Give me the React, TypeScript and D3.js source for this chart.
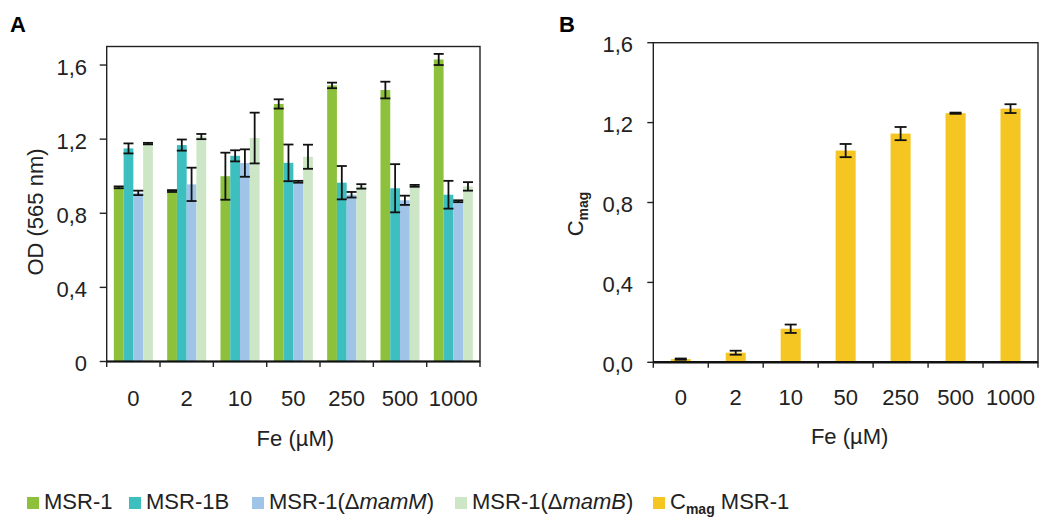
import React from "react";
import * as d3 from "d3";

const categories = ["0", "2", "10", "50", "250", "500", "1000"];
const seriesNames = ["MSR-1", "MSR-1B", "MSR-1(ΔmamM)", "MSR-1(ΔmamB)"];
const seriesColors = ["#8DC13C", "#3DBFBF", "#9FC4E7", "#CDE6C6"];
const msr1 = [0.94, 0.92, 1.0, 1.39, 1.49, 1.465, 1.63];
const msr1Err = [0.005, 0.005, 0.127, 0.025, 0.015, 0.045, 0.03];
const msr1B = [1.15, 1.168, 1.11, 1.072, 0.965, 0.935, 0.9];
const msr1BErr = [0.027, 0.03, 0.03, 0.099, 0.09, 0.13, 0.075];
const mamM = [0.91, 0.956, 1.071, 0.97, 0.9, 0.87, 0.865];
const mamMErr = [0.012, 0.09, 0.074, 0.005, 0.015, 0.025, 0.005];
const mamB = [1.176, 1.214, 1.206, 1.105, 0.945, 0.948, 0.945];
const mamBErr = [0.004, 0.014, 0.137, 0.065, 0.012, 0.005, 0.023];
const cmag = [0.016, 0.048, 0.168, 1.06, 1.145, 1.247, 1.27];
const cmagErr = [0.003, 0.01, 0.021, 0.033, 0.033, 0.003, 0.022];
const cmagColor = "#F5C622";
const yTicksA = [0, 0.4, 0.8, 1.2, 1.6];
const yTickLabelsA = ["0", "0,4", "0,8", "1,2", "1,6"];
const yTicksB = [0, 0.4, 0.8, 1.2, 1.6];
const yTickLabelsB = ["0,0", "0,4", "0,8", "1,2", "1,6"];

const FONT = "'Liberation Sans', Arial, sans-serif";
const FS = 22;

export default function App() {
  const seriesVals = [msr1, msr1B, mamM, mamB];
  const seriesErrs = [msr1Err, msr1BErr, mamMErr, mamBErr];

  // Panel A
  const axL = 106.7, axR = 480, ayB = 361.5, ayT = 46.5;
  const xA = d3.scaleBand<string>().domain(categories).range([axL, axR]).padding(0);
  const yA = d3.scaleLinear().domain([0, 1.7]).range([ayB, ayT]);
  const barWA = xA.bandwidth() * 0.183;
  const groupOffA = (xA.bandwidth() - barWA * 4) / 2;

  // Panel B
  const bxL = 653.3, bxR = 1038, byB = 362.3, byT = 42.7;
  const xB = d3.scaleBand<string>().domain(categories).range([bxL, bxR]).padding(0);
  const yB = d3.scaleLinear().domain([0, 1.6]).range([byB, byT]);
  const barWB = xB.bandwidth() * 0.365;

  const errStroke = "#111";
  const boundariesA = [axL, ...categories.map((c) => (xA(c) as number) + xA.bandwidth())];
  const boundariesB = [bxL, ...categories.map((c) => (xB(c) as number) + xB.bandwidth())];

  const legendTextX = [44, 146, 269, 472, 670];

  return (
    <svg
      width={1044}
      height={519}
      style={{ position: "absolute", left: 0, top: 0, display: "block", background: "#fff" }}
      fontFamily={FONT}
      fontSize={FS}
    >
      <rect x={0} y={0} width={1044} height={519} fill="#fff" />
      {/* Panel labels */}
      <text x={10} y={32} fontWeight="bold" fontSize={22}>A</text>
      <text x={559} y={32} fontWeight="bold" fontSize={22}>B</text>

      {/* ---------- Panel A ---------- */}
      <g>
        {seriesVals.map((vals, si) =>
          categories.map((c, ci) => {
            const x = (xA(c) as number) + groupOffA + si * barWA;
            return (
              <rect
                key={`a-${si}-${ci}`}
                x={x}
                y={yA(vals[ci])}
                width={barWA}
                height={ayB - yA(vals[ci])}
                fill={seriesColors[si]}
              />
            );
          })
        )}
        {seriesVals.map((vals, si) =>
          categories.map((c, ci) => {
            const cx = (xA(c) as number) + groupOffA + si * barWA + barWA / 2;
            const hi = yA(vals[ci] + seriesErrs[si][ci]);
            const lo = yA(vals[ci] - seriesErrs[si][ci]);
            const cw = 5;
            return (
              <g key={`ae-${si}-${ci}`} stroke={errStroke} strokeWidth={1.8}>
                <line x1={cx} x2={cx} y1={hi} y2={lo} />
                <line x1={cx - cw} x2={cx + cw} y1={hi} y2={hi} />
                <line x1={cx - cw} x2={cx + cw} y1={lo} y2={lo} />
              </g>
            );
          })
        )}
        {/* box */}
        <rect x={axL} y={ayT} width={axR - axL} height={ayB - ayT} fill="none" stroke="#222" strokeWidth={1.4} />
        <line x1={axL} x2={axR} y1={ayB} y2={ayB} stroke="#111" strokeWidth={2} />
        {/* y ticks */}
        {yTicksA.map((t, i) => (
          <g key={`ayt-${i}`}>
            <line x1={axL - 7} x2={axL} y1={yA(t)} y2={yA(t)} stroke="#222" strokeWidth={1.4} />
            <text x={87} y={yA(t) + 9.5} textAnchor="end" fill="#222">
              {yTickLabelsA[i]}
            </text>
          </g>
        ))}
        {/* x ticks */}
        {boundariesA.map((b, i) => (
          <line key={`axt-${i}`} x1={b} x2={b} y1={ayB} y2={ayB + 5.5} stroke="#222" strokeWidth={1.4} />
        ))}
        {categories.map((c) => (
          <text key={`axl-${c}`} x={(xA(c) as number) + xA.bandwidth() / 2} y={406} textAnchor="middle" fill="#222">
            {c}
          </text>
        ))}
        <text x={(axL + axR) / 2 + 2} y={446} textAnchor="middle" fill="#222">Fe (µM)</text>
        <text transform="translate(43,212) rotate(-90)" textAnchor="middle" fill="#222">OD (565 nm)</text>
      </g>

      {/* ---------- Panel B ---------- */}
      <g>
        {categories.map((c, ci) => {
          const x = (xB(c) as number) + (xB.bandwidth() - barWB) / 2;
          return (
            <rect key={`b-${ci}`} x={x} y={yB(cmag[ci])} width={barWB} height={byB - yB(cmag[ci])} fill={cmagColor} />
          );
        })}
        {categories.map((c, ci) => {
          const cx = (xB(c) as number) + xB.bandwidth() / 2;
          const hi = yB(cmag[ci] + cmagErr[ci]);
          const lo = yB(cmag[ci] - cmagErr[ci]);
          const cw = 6;
          return (
            <g key={`be-${ci}`} stroke={errStroke} strokeWidth={1.8}>
              <line x1={cx} x2={cx} y1={hi} y2={lo} />
              <line x1={cx - cw} x2={cx + cw} y1={hi} y2={hi} />
              <line x1={cx - cw} x2={cx + cw} y1={lo} y2={lo} />
            </g>
          );
        })}
        <rect x={bxL} y={byT} width={bxR - bxL} height={byB - byT} fill="none" stroke="#222" strokeWidth={1.4} />
        <line x1={bxL} x2={bxR} y1={byB} y2={byB} stroke="#111" strokeWidth={2.4} />
        {yTicksB.map((t, i) => (
          <g key={`byt-${i}`}>
            <line x1={bxL - 6} x2={bxL} y1={yB(t)} y2={yB(t)} stroke="#222" strokeWidth={1.4} />
            <text x={633} y={yB(t) + 9.5} textAnchor="end" fill="#222">
              {yTickLabelsB[i]}
            </text>
          </g>
        ))}
        {boundariesB.map((b, i) => (
          <line key={`bxt-${i}`} x1={b} x2={b} y1={byB} y2={byB + 5.5} stroke="#222" strokeWidth={1.4} />
        ))}
        {categories.map((c) => (
          <text key={`bxl-${c}`} x={(xB(c) as number) + xB.bandwidth() / 2} y={405} textAnchor="middle" fill="#222">
            {c}
          </text>
        ))}
        <text x={(bxL + bxR) / 2 + 4} y={444} textAnchor="middle" fill="#222">Fe (µM)</text>
        <text transform="translate(583,214) rotate(-90)" textAnchor="middle" fill="#222">
          C<tspan fontSize={14} fontWeight="bold" dy={5}>mag</tspan>
        </text>
      </g>

      {/* ---------- Legend ---------- */}
      <g>
        {[...seriesNames, "Cmag MSR-1"].map((name, i) => {
          const tx = legendTextX[i];
          const color = i < 4 ? seriesColors[i] : cmagColor;
          return (
            <g key={`lg-${i}`}>
              <rect x={tx - 17} y={497} width={12} height={12} fill={color} />
              {i === 0 || i === 1 ? (
                <text x={tx} y={509} fill="#222">{name}</text>
              ) : i === 2 ? (
                <text x={tx} y={509} fill="#222">
                  MSR-1(Δ<tspan fontStyle="italic">mamM</tspan>)
                </text>
              ) : i === 3 ? (
                <text x={tx} y={509} fill="#222">
                  MSR-1(Δ<tspan fontStyle="italic">mamB</tspan>)
                </text>
              ) : (
                <text x={tx} y={509} fill="#222">
                  C<tspan fontSize={14} fontWeight="bold" dy={5}>mag</tspan>
                  <tspan dy={-5}> MSR-1</tspan>
                </text>
              )}
            </g>
          );
        })}
      </g>
    </svg>
  );
}
